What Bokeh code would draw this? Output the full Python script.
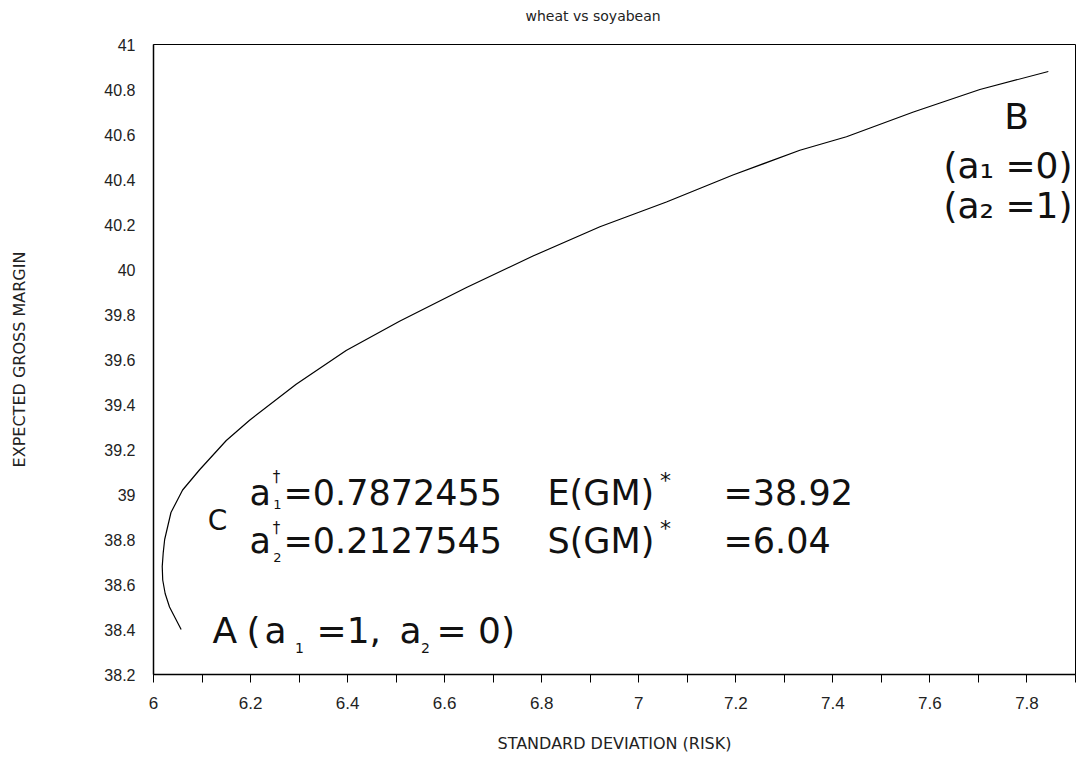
from bokeh.plotting import figure
from bokeh.models import Label, FixedTicker, Range1d
from bokeh.embed import file_html
from bokeh.resources import INLINE

# ---------------- data ----------------
title_text = "wheat vs soyabean"
x_title = "STANDARD DEVIATION (RISK)"
y_title = "EXPECTED GROSS MARGIN"

# efficient frontier: standard deviation (risk) vs expected gross margin
std_dev = [6.057, 6.045, 6.033, 6.024, 6.019, 6.018, 6.020, 6.023, 6.036, 6.060,
           6.095, 6.150, 6.198, 6.294, 6.397, 6.507, 6.645, 6.782, 6.920, 7.057,
           7.194, 7.332, 7.428, 7.566, 7.703, 7.844]
exp_gm = [38.40, 38.45, 38.50, 38.56, 38.62, 38.68, 38.74, 38.80, 38.92, 39.02,
          39.11, 39.24, 39.33, 39.49, 39.64, 39.77, 39.92, 40.06, 40.19, 40.30,
          40.42, 40.53, 40.59, 40.70, 40.80, 40.88]

x_ticks = [6.0, 6.2, 6.4, 6.6, 6.8, 7.0, 7.2, 7.4, 7.6, 7.8]
x_tick_labels = ["6", "6.2", "6.4", "6.6", "6.8", "7", "7.2", "7.4", "7.6", "7.8"]
x_minor_ticks = [6.1, 6.3, 6.5, 6.7, 6.9, 7.1, 7.3, 7.5, 7.7, 7.9]
y_ticks = [38.2, 38.4, 38.6, 38.8, 39.0, 39.2, 39.4, 39.6, 39.8, 40.0,
           40.2, 40.4, 40.6, 40.8, 41.0]
y_tick_labels = ["38.2", "38.4", "38.6", "38.8", "39", "39.2", "39.4", "39.6",
                 "39.8", "40", "40.2", "40.4", "40.6", "40.8", "41"]
x_lim = [6.0, 7.9]
y_lim = [38.2, 41.0]

# optimum portfolio text
a1_opt = "0.7872455"
a2_opt = "0.2127545"
egm_opt = "38.92"
sgm_opt = "6.04"

# ---------------- layout ----------------
O = 1  # page offset of the canvas
W, H = 1076, 756
ML, MR, MT, MB = 153, 1, 42, 82
FW, FH = W - ML - MR, H - MT - MB

p = figure(width=W, height=H, x_range=Range1d(*x_lim), y_range=Range1d(*y_lim),
           output_backend="svg", toolbar_location=None,
           min_border_left=ML, min_border_right=MR, min_border_top=MT,
           min_border_bottom=MB, background_fill_color="white",
           border_fill_color="white", outline_line_color="black",
           outline_line_width=1)

p.xgrid.visible = False
p.ygrid.visible = False

# trailing blank line lifts the title towards the top edge, as in the original
p.title.text = title_text + "\n"
p.title.align = "left"
p.title.offset = 372
p.title.text_font = "DejaVu Sans"
p.title.text_font_size = "14px"
p.title.text_font_style = "normal"
p.title.text_color = "#222222"

xa = p.xaxis[0]
xa.ticker = FixedTicker(ticks=x_ticks, minor_ticks=x_minor_ticks)
xa.major_label_overrides = {t: l for t, l in zip(x_ticks, x_tick_labels)}
xa.major_tick_out = 8
xa.major_tick_in = 0
xa.minor_tick_out = 8
xa.minor_tick_in = 0
xa.major_tick_line_color = "black"
xa.minor_tick_line_color = "black"
xa.axis_line_color = "black"
xa.axis_line_width = 1.5
xa.major_label_text_font = "Liberation Sans"
xa.major_label_text_font_size = "17px"
xa.major_label_text_color = "#222222"
xa.major_label_standoff = 14
xa.axis_label = x_title
xa.axis_label_text_font = "DejaVu Sans"
xa.axis_label_text_font_size = "16px"
xa.axis_label_text_font_style = "normal"
xa.axis_label_text_color = "#222222"
xa.axis_label_standoff = 22

ya = p.yaxis[0]
ya.ticker = FixedTicker(ticks=y_ticks, minor_ticks=[])
ya.major_label_overrides = {t: l for t, l in zip(y_ticks, y_tick_labels)}
ya.major_tick_out = 0
ya.major_tick_in = 0
ya.minor_tick_line_color = None
ya.axis_line_color = "black"
ya.axis_line_width = 1.5
ya.major_label_text_font = "Liberation Sans"
ya.major_label_text_font_size = "16px"
ya.major_label_text_color = "#222222"
ya.major_label_standoff = 18
ya.axis_label = y_title
ya.axis_label_text_font = "DejaVu Sans"
ya.axis_label_text_font_size = "16px"
ya.axis_label_text_font_style = "normal"
ya.axis_label_text_color = "#222222"
ya.axis_label_standoff = 72

p.line(std_dev, exp_gm, line_color="black", line_width=1.2)


# ---------------- annotations (placed by page pixel position) ----------------
def dx(px):
    return x_lim[0] + (px - O - ML) / FW * (x_lim[1] - x_lim[0])


def dy(py):
    return y_lim[1] - (py - O - MT) / FH * (y_lim[1] - y_lim[0])


def lab(px, baseline, text, size, align="left"):
    # bokeh sets alphabetic text about 0.35em low; compensate
    py = baseline - 0.35 * size
    p.add_layout(Label(x=dx(px), y=dy(py), text=text, text_font="DejaVu Sans",
                       text_font_size=f"{size}px", text_align=align,
                       text_baseline="alphabetic", text_color="#111111"))


BIG = 35

# point B
lab(1017, 128, "B", 36, "center")
lab(1073, 177, "(a\u2081 =0)", 36, "right")
lab(1073, 217, "(a\u2082 =1)", 36, "right")

# optimum point C
lab(218, 530, "C", 28, "center")
lab(250, 505, "a", BIG)
lab(277, 482, "\u2020", 15, "center")
lab(278, 509, "1", 13, "center")
lab(284, 505, "=" + a1_opt, BIG)
lab(548, 505, "E(GM)", BIG)
lab(666, 488, "*", 22, "center")
lab(724, 505, "=" + egm_opt, BIG)

lab(250, 553, "a", BIG)
lab(277, 533, "\u2020", 15, "center")
lab(278, 562, "2", 13, "center")
lab(284, 553, "=" + a2_opt, BIG)
lab(548, 553, "S(GM)", BIG)
lab(666, 536, "*", 22, "center")
lab(724, 553, "=" + sgm_opt, BIG)

# point A
lab(213, 643, "A", 36)
lab(247, 643, "(", 36)
lab(265, 643, "a", 36)
lab(300, 653, "1", 14, "center")
lab(317, 643, "=1,", 36)
lab(400, 643, "a", 36)
lab(426, 653, "2", 14, "center")
lab(437, 643, "= 0)", 36)

open("out.html", "w").write(file_html(p, INLINE))
